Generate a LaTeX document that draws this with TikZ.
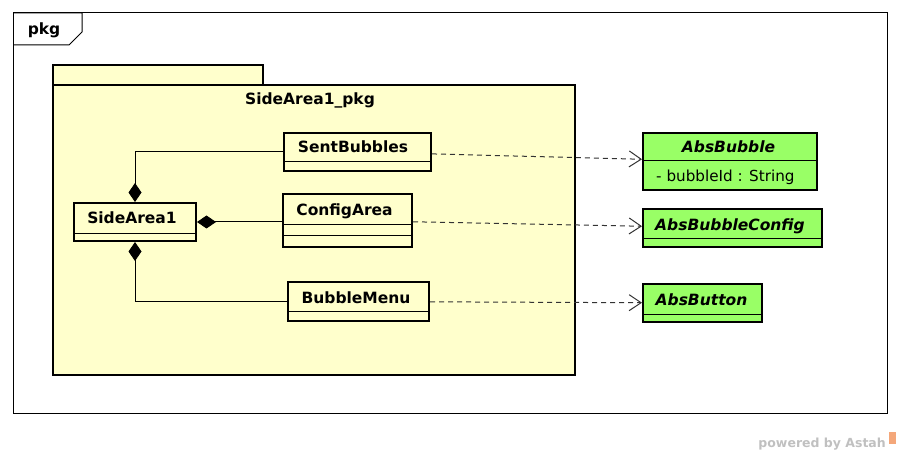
\documentclass[tikz,border=0pt]{standalone}
\usepackage{fontspec}
\setmainfont{DejaVu Sans}
\usepackage{xcolor}
\usepackage{tikz}
\usetikzlibrary{positioning, calc, arrows.meta}

\definecolor{pkgyellow}{HTML}{FFFFCC}
\definecolor{absgreen}{HTML}{99FF66}
\definecolor{astahgray}{HTML}{C0C0C0}
\definecolor{astahorange}{HTML}{F4A77A}

\tikzset{
  classbox/.style={draw, line width=2pt, inner sep=0pt},
  classname/.style={font=\fontsize{15.5}{17}\selectfont\bfseries, inner sep=0pt, anchor=base},
  absname/.style={font=\fontsize{15.5}{17}\selectfont\bfseries\itshape, inner sep=0pt, anchor=base},
  divider/.style={line width=0.8pt},
  composite/.style={{Diamond[length=19pt, width=13pt]}-, line width=1pt},
  depend/.style={-{Straight Barb[length=12pt, width=16pt]}, dash pattern=on 5pt off 4pt, line width=1pt, black!80},
}

\begin{document}
\begin{tikzpicture}[x=1pt, y=-1pt]
  \useasboundingbox (0,0) rectangle (901,454);

  % Frame
  \draw[line width=1pt] (13,13) rectangle (887,413);
  \draw[line width=1pt] (13,13) -- (82,13) -- (82,32) -- (69,45) -- (13,45);
  \node[classname] (frame) at (44,35) {pkg};

  % Package
  \draw[line width=2pt, fill=pkgyellow] (53,65) rectangle (263,85);
  \draw[line width=2pt, fill=pkgyellow] (53,85) rectangle (575,375);
  \node[classname] (pkgname) at (310,105) {SideArea1\_pkg};

  % Classes in the package
  \node[classbox, fill=pkgyellow, minimum width=122, minimum height=38] (side) at (135,222) {};
  \draw[divider] ($(side.south west)+(0,-9)$) -- ($(side.south east)+(0,-9)$);
  \node[classname] (sidename) at (132,224) {SideArea1};

  \node[classbox, fill=pkgyellow, minimum width=147, minimum height=38] (sent) at (357.5,152) {};
  \draw[divider] ($(sent.south west)+(0,-11)$) -- ($(sent.south east)+(0,-11)$);
  \node[classname] (sentname) at (353,153) {SentBubbles};

  \node[classbox, fill=pkgyellow, minimum width=129, minimum height=53] (config) at (347.5,220.5) {};
  \foreach \d in {24, 13}
    \draw[divider] ($(config.south west)+(0,-\d)$) -- ($(config.south east)+(0,-\d)$);
  \node[classname] (configname) at (344.5,215) {ConfigArea};

  \node[classbox, fill=pkgyellow, minimum width=141, minimum height=39] (menu) at (358.5,301.5) {};
  \draw[divider] ($(menu.south west)+(0,-11)$) -- ($(menu.south east)+(0,-11)$);
  \node[classname] (menuname) at (356,303) {BubbleMenu};

  % Abstract classes
  \node[classbox, fill=absgreen, minimum width=174, minimum height=57] (absbubble) at (730,161.5) {};
  \draw[divider] ($(absbubble.north west)+(0,28)$) -- ($(absbubble.north east)+(0,28)$);
  \node[absname] (absbubblename) at (728.5,153) {AbsBubble};
  \node[font=\fontsize{15.2}{17}\selectfont, inner sep=0pt, anchor=base west] (bubbleid) at (656,182) {- bubbleId : String};

  \node[classbox, fill=absgreen, minimum width=179, minimum height=38] (absconfig) at (732.5,228) {};
  \draw[divider] ($(absconfig.south west)+(0,-10)$) -- ($(absconfig.south east)+(0,-10)$);
  \node[absname] (absconfigname) at (730,230) {AbsBubbleConfig};

  \node[classbox, fill=absgreen, minimum width=119, minimum height=38] (absbutton) at (702.5,303) {};
  \draw[divider] ($(absbutton.south west)+(0,-9)$) -- ($(absbutton.south east)+(0,-9)$);
  \node[absname] (absbuttonname) at (701.5,305) {AbsButton};

  % Compositions
  \draw[composite] (side.north) |- (sent.west);
  \draw[composite] (side.east) -- (side.east -| config.west);
  \draw[composite] (side.south) |- (menu.west);

  % Dependencies
  \draw[depend] (sent) -- (absbubble);
  \draw[depend] (config) -- (absconfig);
  \draw[depend] (menu) -- (absbutton);

  % Watermark
  \node[font=\fontsize{12.5}{14}\selectfont\bfseries, text=astahgray, inner sep=0pt, anchor=base east] (powered) at (886,447) {powered by Astah};
  \fill[astahorange] (889,432) rectangle (896,444);
\end{tikzpicture}
\end{document}
